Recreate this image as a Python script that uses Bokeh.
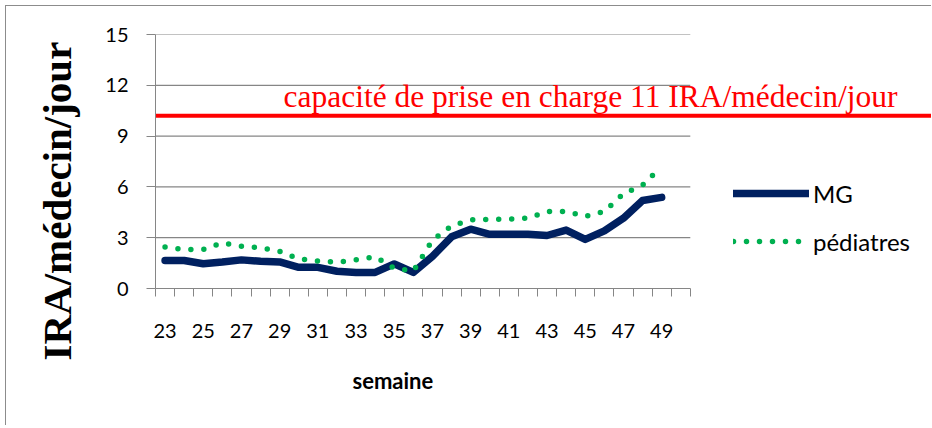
from bokeh.plotting import figure
from bokeh.models import (Range1d, FixedTicker, Label, Legend, LegendItem,
                          ColumnDataSource, Title)
from bokeh.embed import file_html
from bokeh.resources import INLINE

# ---- data ----
weeks = list(range(23, 50))
week_slots = list(range(23, 51))          # category slots on the axis (50 empty)
mg = [1.65, 1.65, 1.46, 1.56, 1.69, 1.61, 1.57, 1.25, 1.25, 1.02, 0.95, 0.95,
      1.45, 0.95, 1.9, 3.05, 3.5, 3.2, 3.2, 3.2, 3.13, 3.45, 2.9, 3.4, 4.15,
      5.2, 5.38]
pediatres = [2.45, 2.3, 2.3, 2.7, 2.5, 2.4, 2.2, 1.75, 1.62, 1.55, 1.7, 1.88,
             1.2, 1.03, 2.85, 3.7, 4.05, 4.08, 4.1, 4.15, 4.55, 4.55, 4.25,
             4.55, 5.6, 6.1, 7.2]
x_tick_labels = [23, 25, 27, 29, 31, 33, 35, 37, 39, 41, 43, 45, 47, 49]
y_ticks = [0, 3, 6, 9, 12, 15]
capacity_level = 10.2
capacity_text = "capacité de prise en charge 11 IRA/médecin/jour"

GRAY = "#868686"
NAVY = "#002060"
GREEN = "#00B050"
RED = "#FF0000"

PX_PER_WEEK = 19.1
FRAME_W = 776
x_lo = week_slots[0] - 0.5
x_hi_cat = week_slots[-1] + 0.5
x_hi = x_lo + FRAME_W / PX_PER_WEEK

p = figure(width=926, height=420, output_backend="svg", toolbar_location=None,
           x_range=Range1d(x_lo, x_hi), y_range=Range1d(0, 15),
           min_border_left=149, min_border_right=1, min_border_top=28,
           min_border_bottom=138)
p.outline_line_color = None
p.xgrid.visible = False
p.ygrid.visible = False
p.styles = {"margin": "5px 0 0 5px",
            "border-left": "1px solid #8c8c8c",
            "border-top": "1px solid #8c8c8c"}

# axes
xa = p.xaxis[0]
xa.ticker = FixedTicker(ticks=x_tick_labels,
                        minor_ticks=[w - 0.5 for w in week_slots] + [x_hi_cat])
xa.bounds = (x_lo, x_hi_cat)
xa.axis_line_color = GRAY
xa.major_tick_line_color = None
xa.major_tick_out = 0
xa.major_tick_in = 0
xa.minor_tick_line_color = GRAY
xa.minor_tick_out = 8
xa.minor_tick_in = 0
xa.major_label_standoff = 27
xa.major_label_text_font = "Lato"
xa.major_label_text_font_size = "20px"
xa.major_label_text_color = "black"

ya = p.yaxis[0]
ya.ticker = FixedTicker(ticks=y_ticks)
ya.axis_line_color = GRAY
ya.major_tick_line_color = GRAY
ya.major_tick_out = 9
ya.major_tick_in = 0
ya.minor_tick_line_color = None
ya.major_label_standoff = 18
ya.major_label_text_font = "Lato"
ya.major_label_text_font_size = "20px"
ya.major_label_text_color = "black"

# gridlines limited to the category area
gy = y_ticks[1:]
p.segment(x0=[x_lo] * len(gy), y0=gy, x1=[x_hi_cat] * len(gy), y1=gy,
          line_color=GRAY, line_width=1.2)

# capacity line (extends to the right edge)
p.segment(x0=[x_lo], y0=[capacity_level], x1=[x_hi], y1=[capacity_level],
          line_color=RED, line_width=4)
p.add_layout(Label(x=29.2, y=11.31, text=capacity_text, text_color=RED,
                   text_font="Liberation Serif", text_font_size="31.5px",
                   text_baseline="alphabetic", text_align="left"))

src = ColumnDataSource(dict(week=weeks, mg=mg, ped=pediatres))
r_mg = p.line("week", "mg", source=src, line_color=NAVY, line_width=7.5,
              line_join="round", line_cap="round")
r_ped = p.line("week", "ped", source=src, line_color=GREEN, line_width=5.5,
               line_dash="0 13", line_cap="round", line_join="round")

legend = Legend(items=[LegendItem(label="MG", renderers=[r_mg]),
                       LegendItem(label="pédiatres", renderers=[r_ped])],
                location=(578, 32), padding=0, margin=0, spacing=18,
                glyph_width=76, glyph_height=30, label_height=30,
                label_standoff=4, border_line_alpha=0,
                background_fill_alpha=0, label_text_font="Lato",
                label_text_font_size="24px", label_text_color="black")
p.add_layout(legend)

# axis titles
p.add_layout(Title(text="IRA/médecin/jour", align="left", offset=-72,
                   vertical_align="middle", standoff=44,
                   text_font="Liberation Serif", text_font_style="bold",
                   text_font_size="41px", text_color="black"), "left")
p.add_layout(Title(text="semaine", align="left", offset=197,
                   vertical_align="middle", standoff=51,
                   text_font="Lato", text_font_style="bold",
                   text_font_size="22px", text_color="black"), "below")

open("out.html", "w").write(file_html(p, INLINE))
